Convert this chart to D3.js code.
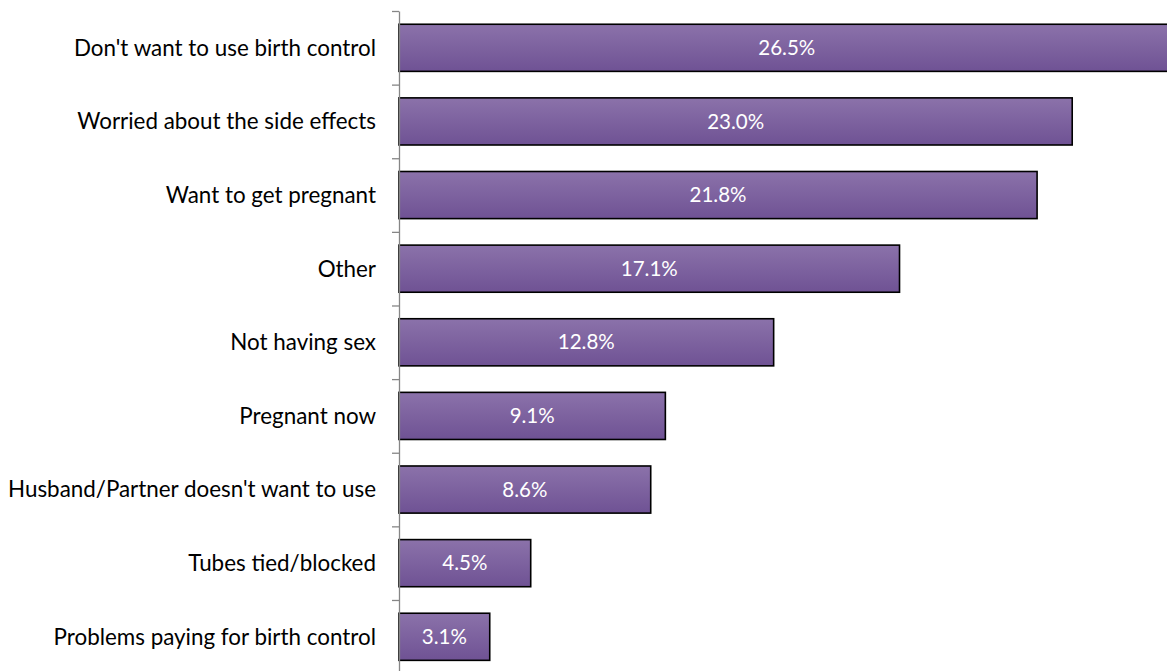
<!DOCTYPE html>
<html>
<head>
<meta charset="utf-8">
<script src="https://cdn.jsdelivr.net/npm/d3@7"></script>
<style>
  html, body { margin: 0; padding: 0; background: #fff; }
  svg { display: block; }
</style>
</head>
<body>
<svg id="chart" width="1167" height="671"></svg>
<script>
// Reasons for not using birth control (percent of respondents)
const categories = [
  "Don't want to use birth control",
  "Worried about the side effects",
  "Want to get pregnant",
  "Other",
  "Not having sex",
  "Pregnant now",
  "Husband/Partner doesn't want to use",
  "Tubes tied/blocked",
  "Problems paying for birth control"
];
const values = [26.5, 23.0, 21.8, 17.1, 12.8, 9.1, 8.6, 4.5, 3.1];
const valueLabels = ["26.5%", "23.0%", "21.8%", "17.1%", "12.8%", "9.1%", "8.6%", "4.5%", "3.1%"];

const data = categories.map((c, i) => ({ cat: c, value: values[i], label: valueLabels[i] }));

const svg = d3.select("#chart");
const axisX = 399;
const plotTop = 11, plotBottom = 673.6;

const x = d3.scaleLinear().domain([0, 30]).range([axisX, axisX + 30 * 29.27]);
const y = d3.scaleBand().domain(categories).range([plotTop, plotBottom])
  .paddingInner(0.36).paddingOuter(0.18);

// Vertical gradient fill for the bars
const defs = svg.append("defs");
const grad = defs.append("linearGradient")
  .attr("id", "barFill").attr("x1", 0).attr("y1", 0).attr("x2", 0).attr("y2", 1);
grad.append("stop").attr("offset", "0%").attr("stop-color", "#8b72aa");
grad.append("stop").attr("offset", "100%").attr("stop-color", "#6f5294");

// Bars
svg.append("g").selectAll("rect").data(data).join("rect")
  .attr("x", x(0))
  .attr("y", d => y(d.cat))
  .attr("width", d => x(d.value) - x(0))
  .attr("height", y.bandwidth())
  .attr("fill", "url(#barFill)")
  .attr("stroke", "#000")
  .attr("stroke-width", 1.6);

// Value labels centred in the bars
svg.append("g").selectAll("text").data(data).join("text")
  .attr("x", d => (x(0) + x(d.value)) / 2)
  .attr("y", d => y(d.cat) + y.bandwidth() / 2)
  .attr("dy", "0.35em")
  .attr("text-anchor", "middle")
  .attr("fill", "#fff")
  .style("font-family", "Lato, 'Open Sans', sans-serif")
  .style("font-size", "20.5px")
  .text(d => d.label);

// Category axis: line with ticks at band boundaries
const idx = d3.scaleLinear().domain([0, categories.length]).range([plotTop, plotBottom]);
const axisG = svg.append("g").attr("transform", `translate(${axisX},0)`)
  .call(d3.axisLeft(idx).tickValues(d3.range(0, categories.length + 1))
    .tickFormat("").tickSize(7).tickSizeOuter(0));
axisG.select(".domain").attr("stroke", "#868686").attr("stroke-width", 1.3);
axisG.selectAll(".tick line").attr("stroke", "#868686").attr("stroke-width", 1.3);

// Category labels
svg.append("g").selectAll("text").data(categories).join("text")
  .attr("x", axisX - 23)
  .attr("y", d => y(d) + y.bandwidth() / 2)
  .attr("dy", "0.35em")
  .attr("text-anchor", "end")
  .attr("fill", "#000")
  .style("font-family", "Lato, 'Open Sans', sans-serif")
  .style("font-size", "22.4px")
  .text(d => d);
</script>
</body>
</html>
